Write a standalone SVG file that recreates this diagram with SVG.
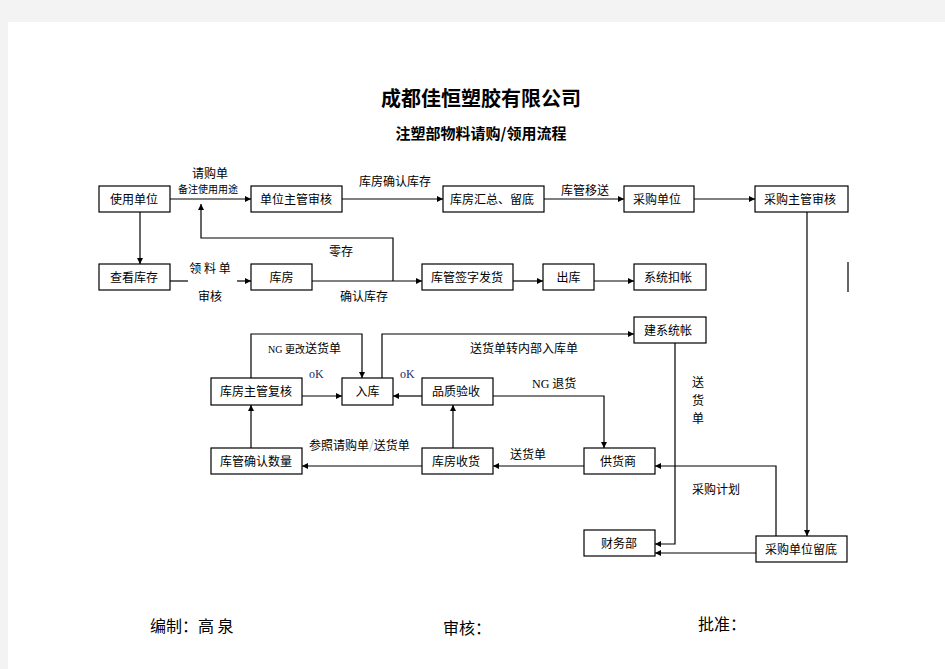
<svg xmlns="http://www.w3.org/2000/svg" width="945" height="669" viewBox="0 0 945 669">
<style>
text{font-family:"Noto Sans CJK SC","Liberation Sans",sans-serif;fill:#000}
.box rect{fill:#fff;stroke:#000;stroke-width:1.2}
.box text{font-size:12px;text-anchor:middle}
.lbl{font-size:12px;text-anchor:middle}
.conn path{fill:none;stroke:#000;stroke-width:1.2}
.arr{marker-end:url(#ah)}
.ser{font-family:"Liberation Serif",serif}
.ok{font-family:"Liberation Serif",serif;font-size:12px;fill:#1a2a6a}
.foot{font-size:16px}
</style>
<defs>
<marker id="ah" viewBox="0 0 10 10" refX="10" refY="5" markerWidth="7" markerHeight="6" markerUnits="userSpaceOnUse" orient="auto">
<path d="M0,0 L10,5 L0,10 Z" fill="#000"/>
</marker>
</defs>
<rect x="0" y="0" width="945" height="669" fill="#f3f3f3"/>
<rect x="8" y="22" width="937" height="647" fill="#fff"/>
<text x="481" y="106" style="font-size:20px;font-weight:bold;text-anchor:middle">成都佳恒塑胶有限公司</text>
<text x="481" y="139" style="font-size:15px;font-weight:bold;text-anchor:middle">注塑部物料请购/领用流程</text>

<g class="conn">
<path class="arr" d="M170,199 H251"/>
<path class="arr" d="M342,199 H443"/>
<path class="arr" d="M544,199 H624"/>
<path class="arr" d="M694,199 H755"/>
<path class="arr" d="M807,212 V536"/>
<path class="arr" d="M140,212 V264"/>
<path d="M170,281 H188"/>
<path class="arr" d="M237,281 H251"/>
<path class="arr" d="M312,281 H422"/>
<path class="arr" d="M393,281 V238 H201 V204"/>
<path class="arr" d="M513,281 H543"/>
<path class="arr" d="M594,281 H634"/>
<path d="M848,262 V292"/>
<path class="arr" d="M382,378 V334 H634"/>
<path class="arr" d="M251,378 V334 H362 V378"/>
<path class="arr" d="M302,396 H342"/>
<path class="arr" d="M422,396 H393"/>
<path class="arr" d="M493,396 H604 V448"/>
<path class="arr" d="M675,343 V544 H655"/>
<path class="arr" d="M756,553 H655"/>
<path class="arr" d="M776,536 V466 H655"/>
<path class="arr" d="M584,466 H493"/>
<path class="arr" d="M422,466 H302"/>
<path class="arr" d="M453,448 V405"/>
<path class="arr" d="M251,448 V405"/>
</g>

<g id="n-shiyong" class="box"><rect x="99" y="186" width="71" height="26"/><text x="134" y="203.5">使用单位</text></g>
<g id="n-danwei" class="box"><rect x="251" y="186" width="91" height="26"/><text x="296" y="203.5">单位主管审核</text></g>
<g id="n-huizong" class="box"><rect x="443" y="186" width="101" height="26"/><text x="492" y="203.5">库房汇总、留底</text></g>
<g id="n-caigou" class="box"><rect x="624" y="186" width="70" height="26"/><text x="657" y="203.5">采购单位</text></g>
<g id="n-caigouzg" class="box"><rect x="755" y="186" width="93" height="26"/><text x="800" y="203.5">采购主管审核</text></g>
<g id="n-chakan" class="box"><rect x="99" y="264" width="71" height="26"/><text x="134" y="281.5">查看库存</text></g>
<g id="n-kufang" class="box"><rect x="251" y="264" width="61" height="26"/><text x="281.5" y="281.5">库房</text></g>
<g id="n-qianzi" class="box"><rect x="422" y="264" width="91" height="26"/><text x="467" y="281.5">库管签字发货</text></g>
<g id="n-chuku" class="box"><rect x="543" y="264" width="51" height="26"/><text x="568.5" y="281.5">出库</text></g>
<g id="n-koushang" class="box"><rect x="634" y="264" width="72" height="26"/><text x="668" y="281.5">系统扣帐</text></g>
<g id="n-jianzhang" class="box"><rect x="634" y="317" width="72" height="26"/><text x="668" y="334.5">建系统帐</text></g>
<g id="n-fuhe" class="box"><rect x="211" y="378" width="91" height="27"/><text x="256" y="396">库房主管复核</text></g>
<g id="n-ruku" class="box"><rect x="342" y="378" width="51" height="27"/><text x="367.5" y="396">入库</text></g>
<g id="n-yanshou" class="box"><rect x="422" y="378" width="71" height="27"/><text x="456" y="396">品质验收</text></g>
<g id="n-shuliang" class="box"><rect x="211" y="448" width="91" height="26"/><text x="256" y="465.5">库管确认数量</text></g>
<g id="n-shouhuo" class="box"><rect x="422" y="448" width="71" height="26"/><text x="456" y="465.5">库房收货</text></g>
<g id="n-gonghuo" class="box"><rect x="584" y="448" width="71" height="26"/><text x="618" y="465.5">供货商</text></g>
<g id="n-caiwu" class="box"><rect x="584" y="530" width="71" height="26"/><text x="619" y="547.5">财务部</text></g>
<g id="n-liudi" class="box"><rect x="756" y="536" width="91" height="26"/><text x="801" y="553.5">采购单位留底</text></g>

<g id="labels">
<text class="lbl" x="210" y="178">请购单</text>
<text class="lbl" x="208" y="193" style="font-size:10px">备注使用用途</text>
<text class="lbl" x="395" y="186">库房确认库存</text>
<text class="lbl" x="585" y="195">库管移送</text>
<text class="lbl" x="210" y="273">领 料 单</text>
<text class="lbl" x="210" y="301">审核</text>
<text class="lbl" x="341" y="256">零存</text>
<text class="lbl" x="364" y="301">确认库存</text>
<text x="268" y="353" style="font-size:12px"><tspan class="ser" style="font-size:10px">NG </tspan><tspan style="font-size:10px">更改</tspan>送货单</text>
<text class="lbl" x="524" y="353">送货单转内部入库单</text>
<text class="ok" x="309" y="378">oK</text>
<text class="ok" x="400" y="378">oK</text>
<text x="532" y="388" style="font-size:12px"><tspan class="ser">NG </tspan>退货</text>
<text class="lbl" x="698" y="387">送</text>
<text class="lbl" x="698" y="405">货</text>
<text class="lbl" x="698" y="423">单</text>
<text x="309" y="450" style="font-size:12px">参照请购单<tspan style="fill:#b8b8b8">/</tspan>送货单</text>
<text class="lbl" x="528" y="459">送货单</text>
<text class="lbl" x="716" y="494">采购计划</text>
</g>

<text class="foot" x="150" y="632">编制：高 泉</text>
<text class="foot" x="443" y="634">审核：</text>
<text class="foot" x="698" y="630">批准：</text>
</svg>
